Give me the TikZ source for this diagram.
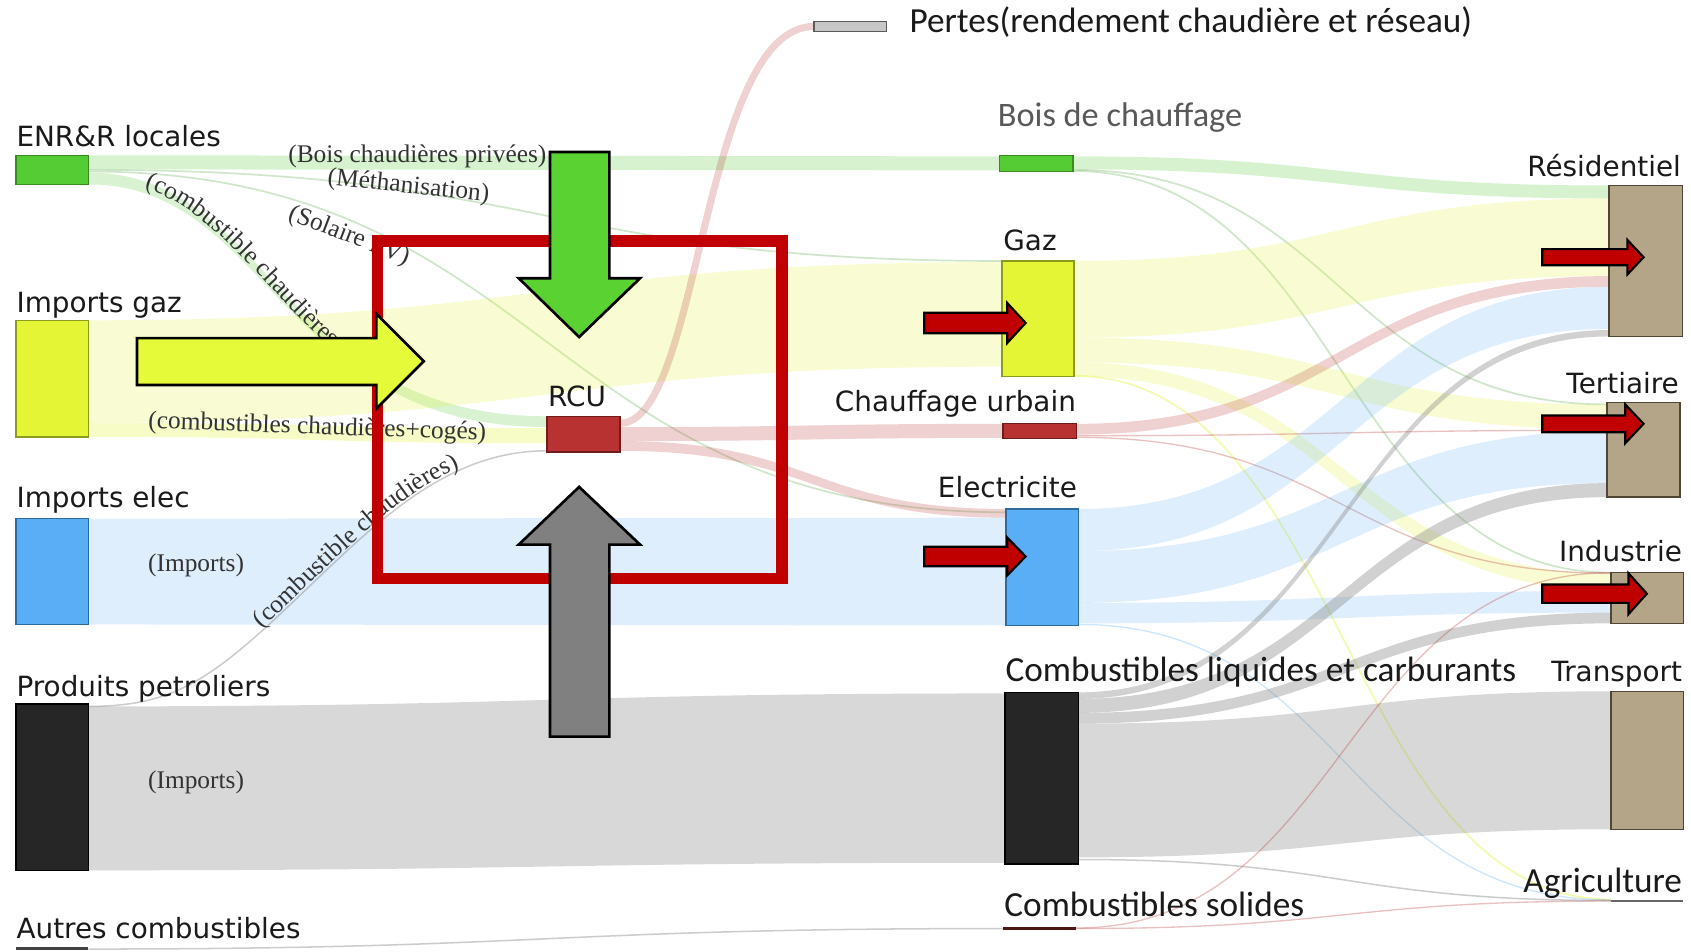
\documentclass[tikz,border=0pt]{standalone}
\usepackage{fontspec}
\setmainfont{DejaVu Sans}
\newfontfamily\calfont{Carlito}
\newfontfamily\serfont{Liberation Serif}
\usetikzlibrary{decorations.text}

\definecolor{cgreen}{HTML}{55CC33}
\definecolor{cgreenD}{HTML}{3A8A22}
\definecolor{cyellow}{HTML}{E4F535}
\definecolor{cyellowD}{HTML}{8C9A1E}
\definecolor{cblue}{HTML}{5AAEF5}
\definecolor{cblueD}{HTML}{2F6A9E}
\definecolor{cblack}{HTML}{262626}
\definecolor{cred}{HTML}{B83232}
\definecolor{credD}{HTML}{6E1C1C}
\definecolor{ctan}{HTML}{B4A488}
\definecolor{ctanD}{HTML}{4F4636}
\definecolor{cgray}{HTML}{808080}
\definecolor{cframe}{HTML}{C00000}
\definecolor{agreen}{HTML}{5AD332}
\definecolor{ayellow}{HTML}{E5FB3A}
\definecolor{txt}{HTML}{1A1A1A}

% band with explicit control x
\newcommand\bandc[9]{\fill[#9] (#1,#2) .. controls (#7,#2) and (#8,#5) .. (#4,#5) -- (#4,#6) .. controls (#8,#6) and (#7,#3) .. (#1,#3) -- cycle;}
\newcommand\band[7]{\bandc{#1}{#2}{#3}{#4}{#5}{#6}{{(#1+#4)/2}}{{(#1+#4)/2}}{#7}}
\newcommand\thinflow[5]{\draw[#5] (#1,#2) .. controls ({(#1+#3)/2},#2) and ({(#1+#3)/2},#4) .. (#3,#4);}
\newcommand\boxnode[6]{\node[#6, inner sep=0pt, minimum width={(#4-#2)*0.02cm}, minimum height={(#5-#3)*0.02cm}] (#1) at ({(#2+#4)/2},{(#3+#5)/2}) {};}
\newcommand\rarrow[6]{\draw[redarrow] (#1,{#4-#5}) -- (#2,{#4-#5}) -- (#2,{#4-#6}) -- (#3,#4) -- (#2,{#4+#6}) -- (#2,{#4+#5}) -- (#1,{#4+#5}) -- cycle;}

\begin{document}
\begin{tikzpicture}[x=0.02cm, y=-0.02cm,
  gband/.style={fill=cgreen, fill opacity=0.24},
  gband2/.style={fill=cgreen, fill opacity=0.22},
  yband/.style={fill=cyellow, fill opacity=0.22},
  yband2/.style={fill=cyellow, fill opacity=0.28},
  bband/.style={fill=cblue, fill opacity=0.2},
  kband/.style={fill=cgray, fill opacity=0.3},
  kband2/.style={fill=cgray, fill opacity=0.36},
  rband/.style={fill=cred, fill opacity=0.22},
  gline/.style={draw=cgreen!60!gray, draw opacity=0.3, line width=0.9pt},
  yline/.style={draw=cyellow, draw opacity=0.4, line width=0.9pt},
  bline/.style={draw=cblue, draw opacity=0.3, line width=0.7pt},
  kline/.style={draw=cgray, draw opacity=0.4, line width=0.8pt},
  rline/.style={draw=cred, draw opacity=0.3, line width=0.7pt},
  gbox/.style={draw=cgreenD, fill=cgreen, line width=0.8pt},
  ybox/.style={draw=cyellowD, fill=cyellow, line width=0.8pt},
  bbox/.style={draw=cblueD, fill=cblue, line width=0.8pt},
  kbox/.style={draw=black, fill=cblack, line width=0.8pt},
  rbox/.style={draw=credD, fill=cred, line width=0.8pt},
  tbox/.style={draw=ctanD, fill=ctan, line width=0.8pt},
  pbox/.style={draw=black!65, fill=black!22, line width=0.8pt},
  kbar/.style={fill=black!75},
  csbar/.style={fill=credD!70!black},
  abar/.style={fill=black!60},
  lab/.style={font=\fontsize{14.7}{16}\selectfont, text=txt, inner sep=0pt},
  clab/.style={font=\calfont\fontsize{18.6}{20}\selectfont, text=txt, inner sep=0pt},
  slab/.style={font=\serfont\fontsize{13.4}{15}\selectfont, text=black!80, inner sep=0pt},
  bigarrow/.style={draw=black, line width=1.4pt, line join=miter},
  redarrow/.style={draw=black, fill=cframe, line width=1.15pt, line join=miter}
]
\useasboundingbox[fill=white] (0,0) rectangle (1568,882);

% ---------- flows: sources -> middle ----------
\band{82}{144}{157}{927}{145}{158}{gband}
\thinflow{82}{157.5}{929}{242}{gline}
\thinflow{82}{159}{932}{475}{gline}
\bandc{82}{160}{171}{507}{386}{396}{250}{260}{gband2}
\band{82}{297}{392}{929}{243}{340}{yband}
\band{82}{392}{405}{507}{397}{411}{yband2}
\band{82}{481}{579}{932}{480}{580}{bband}
\band{82}{655}{807}{932}{643}{800}{kband}
\draw[kline] (82,655) .. controls (150,655) and (185,637) .. (244,584) .. controls (330,506) and (400,418) .. (507,418);
\thinflow{82}{880}{930}{861}{kline}

% ---------- flows from RCU ----------
\draw[draw=cred, draw opacity=0.22, line width=0.13cm] (575,392.5) .. controls (650,392.5) and (650,24.5) .. (755,24.5);
\band{575}{396}{409}{930}{393}{406}{rband}
\band{575}{409}{418}{933}{472}{480}{rband}

% ---------- flows: middle -> sectors ----------
\band{995}{145}{157}{1492}{172}{184}{gband}
\thinflow{995}{157.5}{1490}{375}{gline}
\thinflow{995}{158.5}{1494}{531}{gline}
\band{996}{242}{313}{1492}{184}{256}{yband}
\band{996}{313}{336}{1490}{375}{398}{yband}
\band{996}{336}{349}{1494}{532}{547}{yband}
\thinflow{996}{348.5}{1494}{834}{yline}
\band{998}{393}{403}{1492}{256}{266}{rband}
\thinflow{998}{404}{1490}{399}{rline}
\thinflow{998}{405.5}{1494}{531.5}{rline}
\band{1000}{472}{511}{1492}{266}{305}{bband}
\band{1000}{511}{559}{1490}{400}{448}{bband}
\band{1000}{559}{578}{1494}{548}{568}{bband}
\thinflow{1000}{579}{1494}{834.5}{bline}
\band{1000}{642}{648}{1492}{306}{312}{kband2}
\band{1000}{648}{661}{1490}{448}{461}{kband2}
\band{1000}{661}{671}{1494}{568}{578}{kband2}
\band{1000}{671}{795}{1494}{641}{769}{kband}
\thinflow{1000}{797}{1494}{835}{kline}
\thinflow{998}{860.5}{1494}{531}{rline}
\thinflow{998}{861}{1494}{835.5}{rline}

% ---------- boxes ----------
\boxnode{enr}{15}{144}{82}{171}{gbox}
\boxnode{impgaz}{15}{297}{82}{405}{ybox}
\boxnode{impelec}{15}{481}{82}{579}{bbox}
\boxnode{petro}{15}{653}{82}{807}{kbox}
\boxnode{autres}{15}{878.5}{82}{881}{kbar}
\boxnode{rcu}{507}{386}{575}{419}{rbox}
\boxnode{pertes}{755}{20}{822}{29}{pbox}
\boxnode{bois}{927}{144}{995}{159}{gbox}
\boxnode{gaz}{929}{242}{996}{349}{ybox}
\boxnode{cu}{930}{392.5}{998}{406.5}{rbox}
\boxnode{elec}{933}{472}{1000}{580}{bbox}
\boxnode{cliq}{932}{642}{1000}{801}{kbox}
\boxnode{csol}{930}{859.5}{998}{862}{csbar}
\boxnode{res}{1492}{172}{1560}{312}{tbox}
\boxnode{ter}{1490}{373}{1558}{461}{tbox}
\boxnode{ind}{1494}{531}{1561}{578}{tbox}
\boxnode{trans}{1494}{641}{1561}{769}{tbox}
\boxnode{agri}{1494}{834.5}{1561}{836.5}{abar}

% ---------- labels ----------
\node[lab, anchor=base west] (lenr) at (15,136) {ENR\&R locales};
\node[lab, anchor=base west] (limpgaz) at (15,289.5) {Imports gaz};
\node[lab, anchor=base west] (limpelec) at (15,471) {Imports elec};
\node[lab, anchor=base west] (lpetro) at (15,646) {Produits petroliers};
\node[lab, anchor=base west] (lautres) at (15,870) {Autres combustibles};
\node[lab, anchor=base west] (lrcu) at (508,377) {RCU};
\node[lab, anchor=base west] (lgaz) at (930,232) {Gaz};
\node[lab, anchor=base east] (lcu) at (998,382) {Chauffage urbain};
\node[lab, anchor=base east] (lelec) at (999,461) {Electricite};
\node[lab, anchor=base east] (lres) at (1559,164) {Résidentiel};
\node[lab, anchor=base east] (lter) at (1557,364.5) {Tertiaire};
\node[lab, anchor=base east] (lind) at (1560,521) {Industrie};
\node[lab, anchor=base east] (ltrans) at (1560,632) {Transport};
\node[clab, anchor=base west] (lpertes) at (843,30) {Pertes(rendement chaudière et réseau)};
\node[clab, anchor=base west, text=black!65, font=\calfont\fontsize{18.1}{20}\selectfont] (lbois) at (925,117.5) {Bois de chauffage};
\node[clab, anchor=base west] (lcliq) at (932,632) {Combustibles liquides et carburants};
\node[clab, anchor=base west] (lcsol) at (931,850) {Combustibles solides};
\node[clab, anchor=base east] (lagri) at (1560,828) {Agriculture};

% ---------- flow labels ----------
\node[slab, anchor=base west] (tbois) at (267,151) {(Bois chaudières privées)};
\node[slab, anchor=base west, rotate=-6] (tmeth) at (303,171) {(Méthanisation)};
\node[slab, anchor=base west, rotate=-21] (tsol) at (266,203) {(Solaire PV)};
\node[slab, anchor=base west, rotate=-2] (tcogaz) at (137,397) {(combustibles chaudières+cogés)};
\node[slab, anchor=base west] (timp1) at (137,530) {(Imports)};
\node[slab, anchor=base west] (timp2) at (137,731) {(Imports)};
\path[decorate, decoration={text along path, text={|\serfont\fontsize{13.4}{15}\selectfont\color{black!80}|(combustible chaudières+cogés)}, text align={left indent=30pt}}]
  (82,166) .. controls (250,166) and (260,396) .. (507,396);
\path[decorate, decoration={text along path, raise=1pt, text={|\serfont\fontsize{13.4}{15}\selectfont\color{black!80}|(combustible chaudières)}}]
  (244,584) .. controls (330,506) and (400,418) .. (507,418);

% ---------- highlight frame and big arrows ----------
\draw[cframe, line width=0.21cm] (350,223.5) rectangle (725,536.5);
\draw[bigarrow, fill=ayellow] (127,313.5) -- (349,313.5) -- (349,291) -- (393,335) -- (349,379) -- (349,357) -- (127,357) -- cycle;
\draw[bigarrow, fill=agreen] (510,141) -- (565,141) -- (565,258) -- (593.5,258) -- (537,312.5) -- (481,258) -- (510,258) -- cycle;
\draw[bigarrow, fill=cgray] (510,683) -- (510,505) -- (481,505) -- (537,451.5) -- (593.5,505) -- (565,505) -- (565,683) -- cycle;

% ---------- small red arrows ----------
\rarrow{857}{934}{951}{299.5}{9.5}{18.5}
\rarrow{857}{934}{951}{516}{9}{17.5}
\rarrow{1430}{1509}{1524}{238.5}{7.5}{16}
\rarrow{1430}{1507}{1524}{393}{7.75}{18}
\rarrow{1430}{1510}{1527}{550.5}{8.5}{19}
\end{tikzpicture}
\end{document}
